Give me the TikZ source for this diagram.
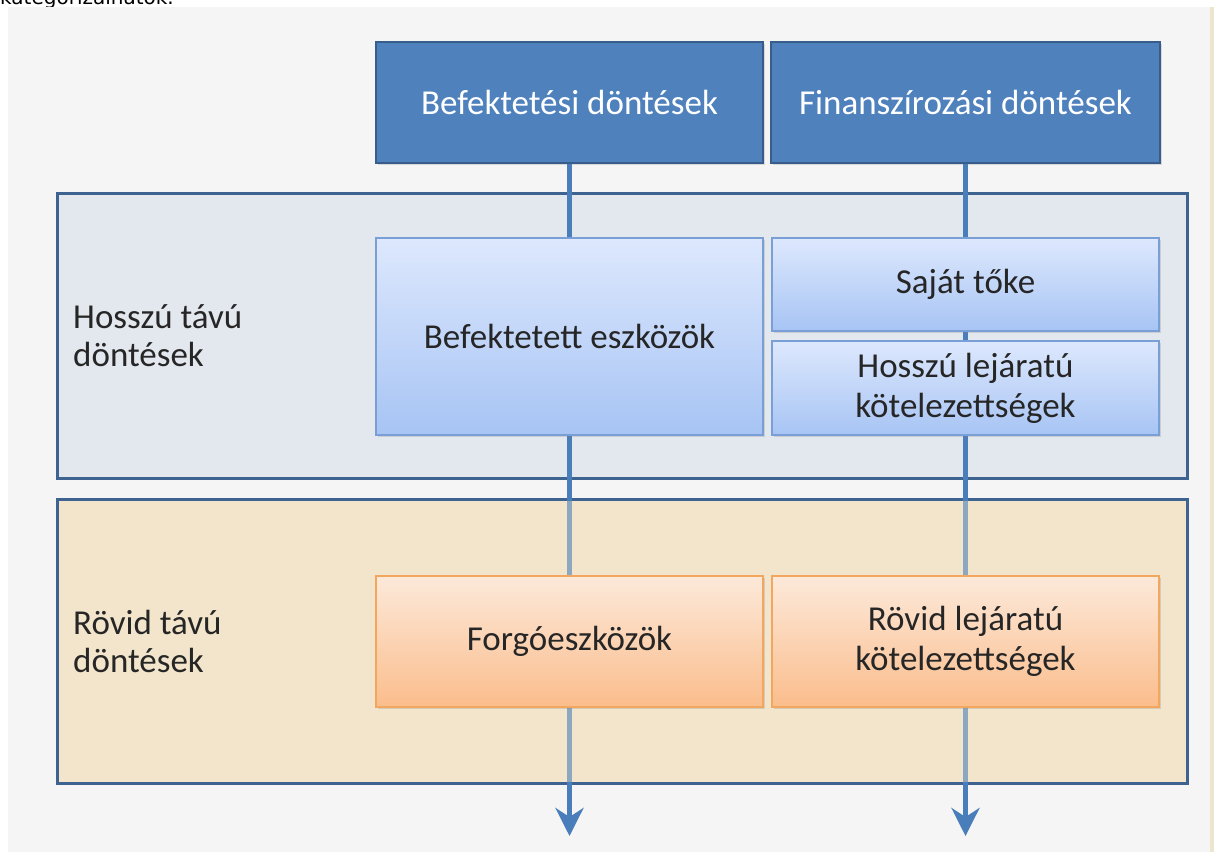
\documentclass[tikz,border=0pt]{standalone}
\usepackage{fontspec}
\setmainfont{Carlito}
\newfontfamily\dvs{DejaVu Sans}
\usetikzlibrary{arrows.meta,shadows}
\definecolor{topfill}{HTML}{4F81BD}
\definecolor{topdraw}{HTML}{385D8A}
\definecolor{bgpanel}{HTML}{F5F5F5}
\definecolor{stripc}{HTML}{EDE6CF}
\definecolor{blupanel}{HTML}{E3E7EE}
\definecolor{begpanel}{HTML}{F2E5CB}
\definecolor{paneldraw}{HTML}{3F6391}
\definecolor{arrowc}{HTML}{4A7EBB}
\definecolor{bluetop}{HTML}{DDE8FD}
\definecolor{bluebot}{HTML}{A7C4F4}
\definecolor{bluedraw}{HTML}{7A9FD6}
\definecolor{orgtop}{HTML}{FCE9DA}
\definecolor{orgbot}{HTML}{FBBD8C}
\definecolor{orgdraw}{HTML}{F2A65E}
\definecolor{txtc}{HTML}{262626}
\tikzset{
  topbox/.style={draw=topdraw, line width=2pt, fill=topfill, text=white,
    font=\fontsize{35}{40}\selectfont, inner sep=0pt,
    drop shadow={shadow xshift=2pt, shadow yshift=-2pt, opacity=0.25}},
  panel/.style={draw=paneldraw, line width=3pt, inner sep=0pt},
  bluebox/.style={draw=bluedraw, line width=1.2pt, top color=bluetop, bottom color=bluebot,
    text=txtc, font=\fontsize{35}{40}\selectfont, align=center, inner sep=0pt,
    drop shadow={shadow xshift=2pt, shadow yshift=-2pt, opacity=0.25}},
  orgbox/.style={draw=orgdraw, line width=1.2pt, top color=orgtop, bottom color=orgbot,
    text=txtc, font=\fontsize{35}{40}\selectfont, align=center, inner sep=0pt,
    drop shadow={shadow xshift=2pt, shadow yshift=-2pt, opacity=0.25}},
  sidelabel/.style={text=txtc, font=\fontsize{35}{38}\selectfont, align=left, anchor=west, inner sep=0pt},
  flow/.style={draw=arrowc, line width=5pt, -{Stealth[length=28pt, width=28pt, inset=9pt]}}
}
\begin{document}
\begin{tikzpicture}[x=1pt,y=-1pt]
\useasboundingbox (0,0) rectangle (1214,852);
\fill[white] (0,0) rectangle (1214,852);
\fill[bgpanel] (8,7) rectangle (1210,852);
\fill[stripc] (1210,7) rectangle (1214,852);
\begin{scope}
\clip (0,0) rectangle (400,6);
\node[anchor=base west, font=\dvs\fontsize{20}{24}\selectfont, inner sep=0pt, text=black] (toptext) at (0,4) {kategorizálhatók.};
\end{scope}
% panels
\node[panel, fill=blupanel, minimum width=1130pt, minimum height=285pt] (longp) at (622,335.5) {};
\node[panel, fill=begpanel, minimum width=1130pt, minimum height=284pt] (shortp) at (622,641) {};
% top boxes
\node[topbox, minimum width=387pt, minimum height=121pt] (bef) at (569.5,102.5) {Befektetési döntések};
\node[topbox, minimum width=389pt, minimum height=121pt] (fin) at (965.5,102.5) {Finanszírozási döntések};
% arrows
\coordinate (e1) at (569.5,836);
\coordinate (e2) at (965.5,836);
\draw[flow] (bef.south) -- (e1);
\draw[flow] (fin.south) -- (e2);
% beige veil over arrows
\fill[begpanel, fill opacity=0.4] (58.5,500.5) rectangle (1185.5,781.5);
% side labels
\node[sidelabel] (hl) at (73,336) {Hosszú távú\\döntések};
\node[sidelabel] (rl) at (73,641) {Rövid távú\\döntések};
% inner boxes
\node[bluebox, minimum width=387pt, minimum height=197pt] (befe) at (569.5,336.5) {Befektetett eszközök};
\node[bluebox, minimum width=387pt, minimum height=93pt] (saj) at (965.5,284.5) {Saját tőke};
\node[bluebox, minimum width=387pt, minimum height=94pt] (hlk) at (965.5,388) {Hosszú lejáratú\\kötelezettségek};
\node[orgbox, minimum width=387pt, minimum height=131pt] (forg) at (569.5,641.5) {Forgóeszközök};
\node[orgbox, minimum width=387pt, minimum height=131pt] (rlk) at (965.5,641.5) {Rövid lejáratú\\kötelezettségek};
\end{tikzpicture}
\end{document}
